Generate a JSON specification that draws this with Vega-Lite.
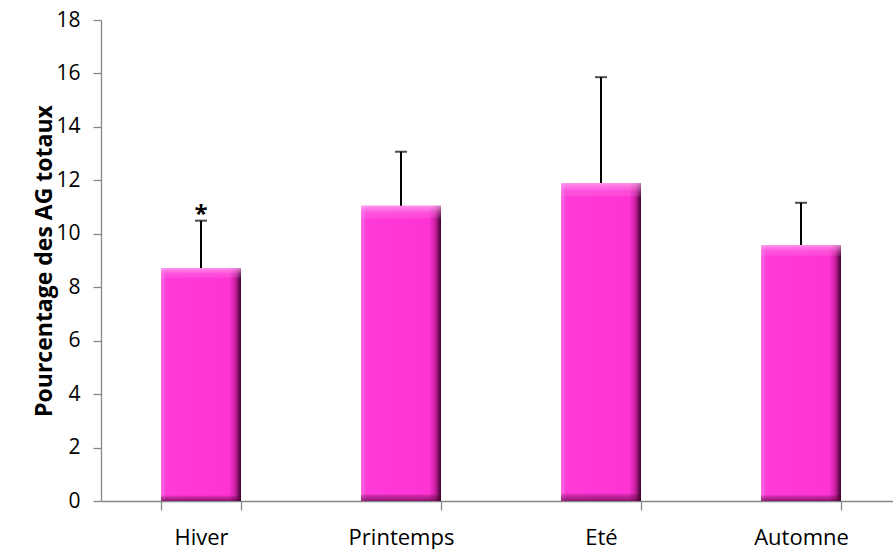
{
  "$schema": "https://vega.github.io/schema/vega-lite/v6.json",
  "autosize": "none",
  "width": 800,
  "height": 481,
  "padding": {"left": 101, "top": 20, "right": -8, "bottom": 48},
  "background": "white",
  "config": {"view": {"stroke": null}, "font": "Open Sans"},
  "data": {"values": [
    {"saison": "Hiver", "valeur": 8.72, "haut": 10.49, "note": "*"},
    {"saison": "Printemps", "valeur": 11.05, "haut": 13.07, "note": ""},
    {"saison": "Eté", "valeur": 11.9, "haut": 15.86, "note": ""},
    {"saison": "Automne", "valeur": 9.58, "haut": 11.16, "note": ""}
  ]},
  "encoding": {
    "x": {
      "field": "saison", "type": "nominal", "sort": null,
      "scale": {"paddingInner": 0.6, "paddingOuter": 0.3},
      "axis": {
        "title": null, "labelAngle": 0, "labelFont": "Open Sans", "labelFontSize": 22,
        "labelColor": "#000000", "labelPadding": 17, "tickBand": "extent",
        "tickSize": 9, "tickColor": "#868686", "domainColor": "#868686",
        "domainWidth": 1.3, "tickWidth": 1.3, "grid": false
      }
    }
  },
  "layer": [
    {
      "mark": {"type": "bar", "color": {
        "gradient": "linear", "x1": 0, "y1": 0, "x2": 1, "y2": 0,
        "stops": [
          {"offset": 0, "color": "#ff6ee2"},
          {"offset": 0.07, "color": "#ff3ad8"},
          {"offset": 0.85, "color": "#ff33d4"},
          {"offset": 0.93, "color": "#c8209f"},
          {"offset": 1, "color": "#3c0030"}
        ]
      }},
      "encoding": {
        "y": {
          "field": "valeur", "type": "quantitative",
          "scale": {"domain": [0, 18], "nice": false},
          "axis": {
            "title": "Pourcentage des AG  totaux", "titleFont": "Open Sans",
            "titleFontSize": 23, "titleFontWeight": "bold", "titleColor": "#000000",
            "titlePadding": -1, "values": [0, 2, 4, 6, 8, 10, 12, 14, 16, 18],
            "labelFont": "Open Sans", "labelFontSize": 21, "labelColor": "#000000",
            "labelPadding": 13, "tickSize": 8, "tickColor": "#868686",
            "domainColor": "#868686", "domainWidth": 1.3, "tickWidth": 1.3,
            "grid": false
          }
        }
      }
    },
    {
      "mark": {"type": "bar", "color": {
        "gradient": "linear", "x1": 0, "y1": 0, "x2": 0, "y2": 1,
        "stops": [
          {"offset": 0, "color": "rgba(255,190,245,0.7)"},
          {"offset": 0.03, "color": "rgba(255,120,230,0.3)"},
          {"offset": 0.045, "color": "rgba(255,255,255,0)"},
          {"offset": 0.975, "color": "rgba(0,0,0,0)"},
          {"offset": 0.985, "color": "rgba(90,0,60,0.35)"},
          {"offset": 1, "color": "rgba(60,0,40,0.6)"}
        ]
      }},
      "encoding": {"y": {"field": "valeur", "type": "quantitative"}}
    },
    {
      "mark": {"type": "rule", "color": "#000000", "strokeWidth": 2},
      "encoding": {
        "y": {"field": "valeur", "type": "quantitative"},
        "y2": {"field": "haut"}
      }
    },
    {
      "mark": {"type": "tick", "color": "#000000", "thickness": 2, "size": 12},
      "encoding": {"y": {"field": "haut", "type": "quantitative"}}
    },
    {
      "mark": {"type": "text", "font": "Open Sans", "fontSize": 24, "fontWeight": "bold", "color": "#000000", "dy": -6, "baseline": "middle"},
      "encoding": {
        "y": {"field": "haut", "type": "quantitative"},
        "text": {"field": "note"}
      }
    }
  ]
}
